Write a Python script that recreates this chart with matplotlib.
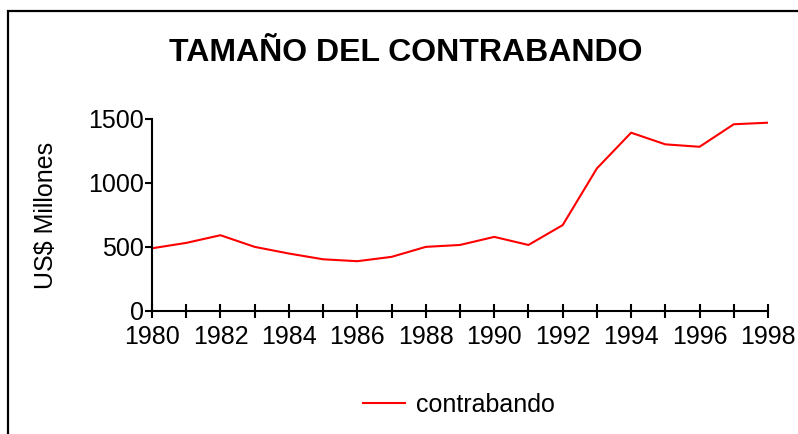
import matplotlib
matplotlib.use("Agg")
import matplotlib.pyplot as plt
from matplotlib.patches import Rectangle

plt.rcParams['font.family'] = ['Liberation Sans', 'DejaVu Sans']

years = list(range(1980, 1999))
contrabando = [490, 532, 592, 501, 449, 404, 389, 423, 501, 516, 579, 516,
               671, 1114, 1393, 1302, 1283, 1459, 1471]
major_years = list(range(1980, 1999, 2))
y_ticks = [0, 500, 1000, 1500]

fig = plt.figure(figsize=(7.98, 4.34), dpi=100)
ax = fig.add_axes([152 / 798, 1 - 311 / 434, (768 - 152) / 798, (311 - 119) / 434])

ax.plot(years, contrabando, color='#ff0000', linewidth=1.5, label='contrabando')

ax.set_xlim(1980, 1998)
ax.set_ylim(0, 1500)
ax.set_xticks(major_years)
ax.set_xticks(years, minor=True)
ax.set_yticks(y_ticks)

for side in ['top', 'right']:
    ax.spines[side].set_visible(False)
for side in ['left', 'bottom']:
    ax.spines[side].set_linewidth(1.5)

ax.tick_params(axis='x', which='both', direction='inout', length=10, width=1.5,
               labelsize=18, pad=5)
ax.tick_params(axis='y', direction='out', length=5, width=1.5, labelsize=18, pad=0.5)
ax.set_ylabel('US$ Millones', fontsize=18, labelpad=22)

fig.text(406 / 798, 1 - 61 / 434, 'TAMAÑO DEL CONTRABANDO', ha='center', va='baseline',
         fontsize=23, fontweight='bold')

fig.legend(loc='center', bbox_to_anchor=(459 / 798, 1 - 405 / 434), frameon=False,
           fontsize=18, handlelength=1.65, handletextpad=0.45)

# outer frame, cut off by the image edges on the right and bottom
fig.patches.append(Rectangle((8 / 798, -0.1), 1.2, 0.1 + (1 - 11 / 434),
                             transform=fig.transFigure, fill=False,
                             edgecolor='black', linewidth=1.6))

fig.savefig('out.png', dpi=100)
